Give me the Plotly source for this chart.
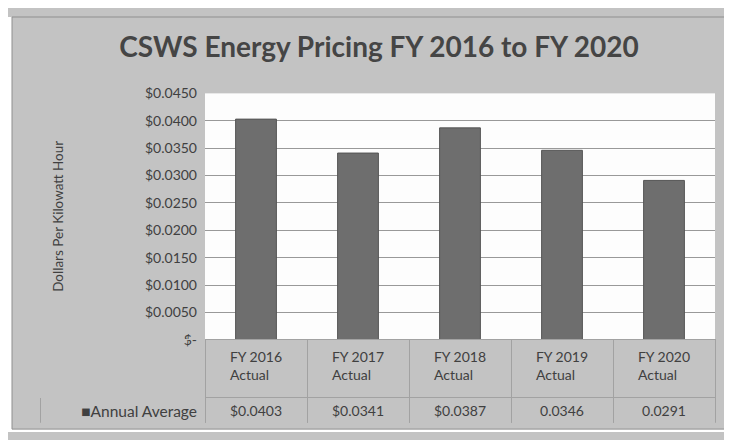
import plotly.graph_objects as go

categories = ["FY 2016<br>Actual", "FY 2017<br>Actual", "FY 2018<br>Actual", "FY 2019<br>Actual", "FY 2020<br>Actual"]
values = [0.0403, 0.0341, 0.0387, 0.0346, 0.0291]
value_labels = ["$0.0403", "$0.0341", "$0.0387", "0.0346", "0.0291"]
series_name = "Annual Average"
tick_vals = [0, 0.005, 0.01, 0.015, 0.02, 0.025, 0.03, 0.035, 0.04, 0.045]
tick_text = ["$-", "$0.0050", "$0.0100", "$0.0150", "$0.0200", "$0.0250",
             "$0.0300", "$0.0350", "$0.0400", "$0.0450"]

# page body has an 8px margin; the figure is sized to fill the rest
OFF = 8
W, H = 732 - OFF, 440 - OFF
BG = "#c3c3c3"
TXT = "#404040"
LINE = "#a2a2a2"
FONT = "Lato"
CLEAR = "rgba(0,0,0,0)"


def px(x):
    return (x - OFF) / W


def py(y):
    return 1 - (y - OFF) / H


fig = go.Figure()

fig.add_trace(go.Bar(
    x=categories, y=values, name=series_name,
    marker=dict(color="#6e6e6e", line=dict(color="#555555", width=1)),
    showlegend=False,
))

# data table below the plot
fig.add_trace(go.Table(
    domain=dict(x=[px(40), px(715)], y=[py(431), py(344)]),
    columnwidth=[165, 102, 102, 102, 102, 102],
    header=dict(
        values=[""] + categories,
        fill_color=CLEAR,
        line=dict(color=[BG] + [LINE] * 5, width=1),
        font=dict(family=FONT, size=14, color=TXT),
        align="center",
        height=58,
    ),
    cells=dict(
        values=[["■" + series_name]] + [[v] for v in value_labels],
        fill_color=CLEAR,
        line=dict(color=LINE, width=1),
        font=dict(family=FONT, size=[15.5, 14, 14, 14, 14, 14], color=TXT),
        align=["right", "center", "center", "center", "center", "center"],
        height=29,
    ),
))

fig.add_annotation(
    text="Dollars Per Kilowatt Hour", textangle=-90,
    xref="paper", yref="paper", x=px(58), y=py(216),
    xanchor="center", yanchor="middle", showarrow=False,
    font=dict(family=FONT, size=13.5, color=TXT),
)

fig.update_layout(
    width=W, height=H,
    margin=dict(l=0, r=0, t=0, b=0),
    paper_bgcolor=BG,
    plot_bgcolor="#fdfdfd",
    font=dict(family=FONT, color=TXT),
    bargap=0.6,
    title=dict(text="<b>CSWS Energy Pricing FY 2016 to FY 2020</b>",
               x=px(379), xanchor="center", y=py(47), yanchor="middle",
               font=dict(family=FONT, size=28, color="#454545")),
    xaxis=dict(domain=[px(205), px(715)], showticklabels=False, showgrid=False,
               zeroline=False, showline=False),
    yaxis=dict(domain=[py(344), py(87.5)], range=[0, 0.045],
               tickvals=tick_vals, ticktext=tick_text,
               tickfont=dict(family=FONT, size=14, color=TXT),
               showgrid=True, gridcolor="#999999", gridwidth=1,
               zeroline=False, showline=False, ticks="", ticklabelstandoff=7),
    shapes=[
        # white page outside the chart frame
        dict(type="rect", xref="paper", yref="paper", x0=px(0), x1=px(12), y0=0, y1=1,
             fillcolor="white", line=dict(width=0), layer="above"),
        dict(type="rect", xref="paper", yref="paper", x0=px(728), x1=1, y0=0, y1=1,
             fillcolor="white", line=dict(width=0), layer="above"),
        dict(type="rect", xref="paper", yref="paper", x0=0, x1=1, y0=0, y1=py(437),
             fillcolor="white", line=dict(width=0), layer="above"),
        # chart frame
        dict(type="rect", xref="paper", yref="paper",
             x0=px(12), x1=px(728), y0=py(437), y1=py(8),
             fillcolor=CLEAR, line=dict(color="#8f8f8f", width=1), layer="above"),
    ],
)

fig.write_html("out.html")
